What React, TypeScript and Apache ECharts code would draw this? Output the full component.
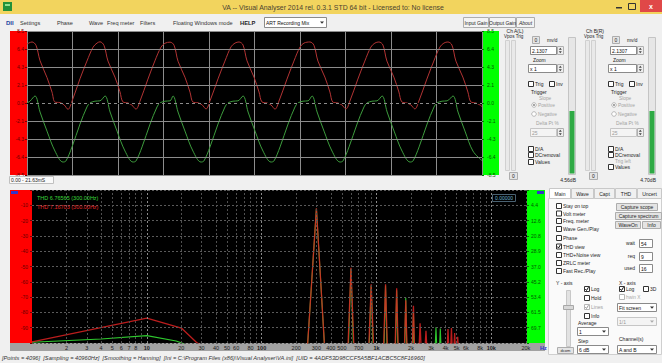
import React, { useEffect, useRef } from "react";
import * as echarts from "echarts";

// ---------- data ----------
const SCOPE_SPAN_MS = 21.63;
const SCOPE_Y_TICKS_A = ["-8.5", "-6.4", "-4.3", "-2.1", "0.0", "2.1", "4.3", "6.4", "8.5"];
const SCOPE_Y_TICKS_B = ["-8.5", "-6.4", "-4.3", "-2.1", "0.0", "2.1", "4.3", "6.4", "8.5"];

// channel A (red) trace: [ms, divisions]
const WAVE_A = [
  [0, 3.28], [0.24, 3.39], [0.43, 3.2], [0.62, 2.35], [0.95, 1.42], [1.19, 0.6], [1.33, 0.05], [1.57, 0.02], [1.76, -0.1], [1.95, -0.35], [2.14, 0.1], [2.52, 1.35], [2.85, 2.33], [3.14, 3.1], [3.33, 3.33],
  [3.47, 3.4], [3.66, 3.2], [3.85, 2.33], [4.18, 1.44], [4.42, 0.62], [4.56, 0.06], [4.8, 0.0], [4.99, -0.12], [5.18, -0.34], [5.37, 0.1], [5.75, 1.33], [6.08, 2.34], [6.37, 3.1], [6.56, 3.32],
  [6.8, 3.38], [6.99, 3.21], [7.18, 2.32], [7.51, 1.43], [7.75, 0.6], [7.89, 0.05], [8.13, 0.01], [8.32, -0.1], [8.51, -0.33], [8.7, 0.12], [9.08, 1.34], [9.41, 2.33], [9.7, 3.12], [9.89, 3.33],
  [10.08, 3.39], [10.27, 3.22], [10.46, 2.34], [10.79, 1.44], [11.03, 0.61], [11.17, 0.06], [11.41, 0.0], [11.6, -0.11], [11.79, -0.34], [11.98, 0.11], [12.36, 1.33], [12.69, 2.33], [12.98, 3.11], [13.17, 3.33],
  [13.45, 3.39], [13.64, 3.21], [13.83, 2.33], [14.16, 1.44], [14.4, 0.61], [14.54, 0.05], [14.78, 0.0], [14.97, -0.11], [15.16, -0.33], [15.35, 0.11], [15.73, 1.33], [16.06, 2.33], [16.35, 3.11], [16.54, 3.33],
  [16.73, 3.39], [16.92, 3.22], [17.11, 2.33], [17.44, 1.44], [17.68, 0.61], [17.82, 0.06], [18.06, 0.0], [18.25, -0.11], [18.44, -0.33], [18.63, 0.11], [19.01, 1.33], [19.34, 2.33], [19.63, 3.11], [19.82, 3.33],
  [20.01, 3.39], [20.2, 3.22], [20.39, 2.33], [20.72, 1.44], [20.96, 0.61], [21.1, 0.06], [21.34, 0.0], [21.53, -0.11], [21.63, -0.2],
];

// channel B (green) trace: [ms, divisions]
const WAVE_B = [
  [0, 0.0], [0.14, 0.1], [0.38, 0.39], [0.62, -0.5], [0.95, -1.56], [1.33, -2.67], [1.71, -3.28], [1.85, -3.22], [2.14, -2.44], [2.52, -1.17], [2.85, -0.22], [2.99, 0.0], [3.23, 0.1], [3.47, 0.12],
  [3.71, 0.39], [3.95, -0.5], [4.28, -1.56], [4.66, -2.67], [5.04, -3.28], [5.18, -3.22], [5.47, -2.44], [5.85, -1.17], [6.18, -0.22], [6.32, 0.0], [6.56, 0.1], [6.8, 0.12],
  [6.94, 0.39], [7.18, -0.5], [7.51, -1.56], [7.89, -2.67], [8.27, -3.28], [8.41, -3.22], [8.7, -2.44], [9.08, -1.17], [9.41, -0.22], [9.55, 0.0], [9.79, 0.1], [10.03, 0.12],
  [10.27, 0.39], [10.51, -0.5], [10.84, -1.56], [11.22, -2.67], [11.6, -3.28], [11.74, -3.22], [12.03, -2.44], [12.41, -1.17], [12.74, -0.22], [12.88, 0.0], [13.12, 0.1], [13.36, 0.12],
  [13.55, 0.39], [13.79, -0.5], [14.12, -1.56], [14.5, -2.67], [14.88, -3.28], [15.02, -3.22], [15.31, -2.44], [15.69, -1.17], [16.02, -0.22], [16.16, 0.0], [16.4, 0.1], [16.64, 0.12],
  [16.88, 0.39], [17.12, -0.5], [17.45, -1.56], [17.83, -2.67], [18.21, -3.28], [18.35, -3.22], [18.64, -2.44], [19.02, -1.17], [19.35, -0.22], [19.49, 0.0], [19.73, 0.1], [19.97, 0.12],
  [20.25, 0.39], [20.49, -0.5], [20.82, -1.56], [21.2, -2.67], [21.63, -3.2],
];

// spectrum: [Hz, dB]
const SPEC_F_MIN = 1;
const SPEC_F_MAX = 20480;
const SPEC_A = [
  [1, -99.3], [10, -83.7], [20, -90.2], [27, -99.5], [30, -102],
  [251, -102], [300, -12.0], [353, -102],
  [565, -102], [600, -50.8], [636, -102],
  [858, -102], [900, -61.6], [944, -102],
  [1155, -102], [1200, -61.6], [1245, -102],
  [1455, -102], [1500, -64.2], [1545, -102],
  [1755, -102], [1800, -72.0], [1845, -102],
  [2055, -102], [2100, -75.6], [2145, -102],
  [2355, -102], [2400, -87.1], [2445, -102],
  [2655, -102], [2700, -92.0], [2745, -102],
  [4140, -102], [4200, -90.8], [4260, -102],
  [4440, -102], [4500, -90.2], [4560, -102],
  [4740, -102], [4800, -93.5], [4860, -102],
  [5040, -102], [5100, -95.9], [5160, -102],
  [20480, -102],
];
const SPEC_B = [
  [1, -99.5], [4, -97.4], [10, -95.2], [18, -98.7], [24, -102],
  [251, -102], [300, -12.3], [353, -102],
  [570, -102], [600, -51.5], [630, -102],
  [865, -102], [900, -62.5], [935, -102],
  [1165, -102], [1200, -62.5], [1235, -102],
  [1465, -102], [1500, -65.5], [1535, -102],
  [1765, -102], [1800, -70.4], [1835, -102],
  [2070, -102], [2100, -80.0], [2130, -102],
  [3250, -102], [3300, -89.7], [3350, -102],
  [3550, -102], [3600, -90.5], [3650, -102],
  [20480, -102],
];
const SPEC_X_TICKS = [2, 3, 4, 5, 6, 7, 8, 9, 10, 20, 30, 40, 50, 60, 70, 80, 90, 100, 200, 300, 400, 500, 600, 700, 800, 900, 1000, 2000, 3000, 4000, 5000, 6000, 7000, 8000, 9000, 10000, 20000];
const SPEC_X_LABELS = ["2", "3", "4", "5", "6", "7", "8", "", "10", "20", "30", "40", "50", "60", "", "80", "", "100", "200", "300", "400", "500", "", "700", "", "", "1k", "2k", "3k", "4k", "5k", "6k", "", "8k", "", "10k", "20k"];
const SPEC_Y_LEFT = ["", "-90", "-80", "-70", "-60", "-50", "-40", "-30", "-20", "-10", ""];
const SPEC_Y_RIGHT = ["", "69.7", "61.5", "53.4", "45.2", "37.0", "28.9", "20.8", "12.6", "4.4", ""];
const THD_TEXT = ["THD 6.76565 (300.00Hz)", "THD 7.16703 (300.00Hz)"];
const LEVEL_DB = ["4.56dB", "4.70dB"];
const TITLE = "VA -- Visual Analyser 2014 rel. 0.3.1 STD 64 bit - Licensed to: No license";
const STATUS = "[Points = 4096]  [Sampling = 40960Hz]  [Smoothing = Hanning]  [Ini = C:\\Program Files (x86)\\Visual Analyser\\VA.ini]  [UID = 4ADF53D98CCF5A5BF1ACBC5C8F16960]";

const F = "'Liberation Sans', 'DejaVu Sans', sans-serif";

// ---------- graphic helpers ----------
function txt(x: number, y: number, s: string, o: any = {}) {
  return {
    type: "text", x, y, z: o.z ?? 20, silent: true,
    style: {
      text: s, fill: o.c ?? "#1e1e1e", fontSize: o.fs ?? 5.5, fontFamily: F,
      fontWeight: o.b ? "bold" : "normal", fontStyle: o.i ? "italic" : "normal",
      align: o.a ?? "left", verticalAlign: "middle",
    },
  };
}
function box(x: number, y: number, w: number, h: number, fill: string, stroke?: string, z = 10) {
  const st: any = { fill };
  if (stroke) { st.stroke = stroke; st.lineWidth = 1; }
  return { type: "rect", z, silent: true, shape: { x: stroke ? x + 0.5 : x, y: stroke ? y + 0.5 : y, width: w, height: h }, style: st };
}
function cb(x: number, y: number, checked = false, dis = false) {
  const out: any[] = [box(x, y - 3, 5, 5, "#fff", dis ? "#b5b5b5" : "#333", 12)];
  if (checked) out.push({ type: "polyline", z: 14, silent: true, shape: { points: [[x + 1.3, y], [x + 2.5, y + 1.5], [x + 4.5, y - 1.8]] }, style: { stroke: dis ? "#9a9a9a" : "#111", lineWidth: 1, fill: null } });
  return out;
}
function radio(x: number, y: number, on: boolean) {
  const out: any[] = [{ type: "circle", z: 12, silent: true, shape: { cx: x, cy: y, r: 2.3 }, style: { fill: "#fff", stroke: "#aaa", lineWidth: 0.8 } }];
  if (on) out.push({ type: "circle", z: 13, silent: true, shape: { cx: x, cy: y, r: 1.1 }, style: { fill: "#999" } });
  return out;
}
function btn(x: number, y: number, w: number, h: number, label: string, o: any = {}) {
  return [box(x, y, w, h, o.bg ?? "#e4e4e4", "#adadad", 12), txt(x + w / 2 + 0.5, y + h / 2 + 0.8, label, { a: "center", fs: o.fs ?? 5, i: o.i, c: o.c })];
}
function input(x: number, y: number, w: number, h: number, val: string, dis = false) {
  return [box(x, y, w, h, dis ? "#f4f4f4" : "#fff", dis ? "#c6c6c6" : "#8a8a8a", 12), txt(x + 2, y + h / 2 + 0.8, val, { fs: 5, c: dis ? "#9a9a9a" : "#111" })];
}
function spin(x: number, y: number, h: number) {
  return [
    box(x, y, 6, h, "#eee", "#b0b0b0", 12),
    { type: "polygon", z: 14, silent: true, shape: { points: [[x + 1.8, y + h / 2 - 0.3], [x + 4.8, y + h / 2 - 0.3], [x + 3.3, y + 1.8]] }, style: { fill: "#444" } },
    { type: "polygon", z: 14, silent: true, shape: { points: [[x + 1.8, y + h / 2 + 1.3], [x + 4.8, y + h / 2 + 1.3], [x + 3.3, y + h - 0.8]] }, style: { fill: "#444" } },
  ];
}
function drop(x: number, y: number, w: number, h: number, val: string, dis = false) {
  return [
    ...input(x, y, w, h, val, dis),
    { type: "polygon", z: 14, silent: true, shape: { points: [[x + w - 6, y + h / 2 - 0.5], [x + w - 2, y + h / 2 - 0.5], [x + w - 4, y + h / 2 + 1.8]] }, style: { fill: dis ? "#aaa" : "#333" } },
  ];
}

function chPanel(x0: number, name: string, db: string, trigLeft: boolean) {
  const g = "#a3a3a3";
  const out: any[] = [
    txt(x0 + 12, 30.5, name, { a: "center", fs: 5 }),
    txt(x0 + 1, 36.5, "Vpos Trig", { fs: 4.6 }),
    box(x0 + 2, 40, 4, 130, "#e9e9e9", "#d0d0d0"),
    box(x0 + 8, 40, 4, 130, "#e9e9e9", "#d0d0d0"),
    ...btn(x0 + 29, 36, 7, 7, "0"),
    txt(x0 + 44, 40, "mv/d", { fs: 4.8 }),
    ...input(x0 + 27, 46, 26, 8, "2.1307"),
    ...spin(x0 + 54, 46, 8),
    txt(x0 + 30, 60, "Zoom", { fs: 5 }),
    ...input(x0 + 25, 64, 28, 8, "x 1"),
    ...spin(x0 + 54, 64, 8),
    ...cb(x0 + 25, 84), txt(x0 + 32, 84, "Trig", { fs: 5 }),
    ...cb(x0 + 46, 84), txt(x0 + 53, 84, "Inv", { fs: 5 }),
    txt(x0 + 28, 92, "Trigger", { fs: 5 }),
    txt(x0 + 36, 98, "Slope", { fs: 4.8, c: g }),
    ...radio(x0 + 31, 105, true), txt(x0 + 35, 105, "Positive", { fs: 4.8, c: g }),
    ...radio(x0 + 31, 114, false), txt(x0 + 35, 114, "Negative", { fs: 4.8, c: g }),
    txt(x0 + 33, 123, "Delta Pt %", { fs: 4.8, c: g }),
    ...input(x0 + 27, 128, 26, 8, "25", true),
    ...spin(x0 + 54, 128, 8),
    ...cb(x0 + 25, 149), txt(x0 + 32, 149, "D/A", { fs: 5 }),
    ...cb(x0 + 25, 155), txt(x0 + 32, 155, "DCremoval", { fs: 5 }),
    ...btn(x0 + 6, 172, 8, 7, "0"),
    box(x0 + 65, 37, 7, 137, "#e6e6e6", "#c4c4c4"),
    box(x0 + 66.5, 111, 5, 62.5, "#2faa45"),
    txt(x0 + 73, 179.5, db, { a: "right", fs: 5 }),
  ];
  if (trigLeft) {
    out.push(txt(x0 + 32, 161, "Trig left", { fs: 4.8, c: g }), ...cb(x0 + 25, 167), txt(x0 + 32, 167, "Values", { fs: 5 }));
  } else {
    out.push(...cb(x0 + 25, 162), txt(x0 + 32, 162, "Values", { fs: 5 }));
  }
  return out;
}

function buildGraphics() {
  const els: any[] = [];
  // title bar
  els.push(box(0, 0, 662, 14, "#f2d45e", undefined, 5));
  els.push(box(3, 2, 9, 9, "#23913a", undefined, 12), box(5, 4, 5, 2, "#8fe08f", undefined, 13));
  els.push(txt(333, 7, TITLE, { a: "center", fs: 6.9, c: "#4a4230" }));
  els.push(box(616, 7, 6, 1.5, "#333", undefined, 12));
  els.push(box(628, 3, 7, 6, "rgba(0,0,0,0)", "#333", 12));
  els.push(box(640, 0, 22, 12, "#e04848", undefined, 12));
  els.push(txt(651, 6, "x", { a: "center", fs: 7, c: "#fff", b: true }));
  // menu bar
  els.push(box(0, 14, 662, 16, "#f0f0f0", undefined, 5));
  els.push(txt(6, 22.5, "DII", { b: true, c: "#1c3f9e", fs: 6 }));
  const menu = [["Settings", 20], ["Phase", 57], ["Wave", 89], ["Freq meter", 107], ["Filters", 140], ["Floating Windows mode", 173]];
  for (const [s, x] of menu) els.push(txt(x as number, 22.5, s as string, { fs: 5.6, c: "#333" }));
  els.push(txt(240, 22.5, "HELP", { b: true, fs: 5.8 }));
  els.push(...drop(264, 17, 62, 10, "ART Recording Mix"));
  els.push(...btn(463, 17, 25, 10, "Input Gain", { bg: "#f4f4f4" }));
  els.push(...btn(489, 17, 26, 10, "Output Gain", { bg: "#f4f4f4" }));
  els.push(...btn(516, 17, 18, 10, "About", { bg: "#f4f4f4", i: true }));

  // scope side bars (under the axis labels)
  els.push(box(10, 31, 17, 144, "#ff0000", undefined, -1));
  els.push(box(482, 31, 17, 144, "#00ff00", undefined, -1));
  els.push(box(9, 176, 44, 7, "#fafafa", "#c0c0c0"));
  els.push(txt(11, 180, "0.00 - 21.63mS", { fs: 5 }));

  els.push(...chPanel(503, "Ch A(L)", LEVEL_DB[0], false));
  els.push(...chPanel(583, "Ch B(R)", LEVEL_DB[1], true));

  // spectrum side bars
  els.push(box(10, 190, 22, 153, "#ff0000", undefined, -1));
  els.push(box(527, 190, 18, 153, "#00ff00", undefined, -1));
  els.push(box(10, 343, 535, 8, "#a2a2a2", undefined, -1));
  els.push(box(11, 191, 7, 3, "#3434c8", undefined, 12));
  els.push(box(537, 191, 7, 3, "#3434c8", undefined, 12));
  els.push(txt(540, 347.5, "Hz", { fs: 5.5, c: "#2a2ad0", b: true }));
  els.push(txt(37, 198, THD_TEXT[0], { fs: 5.5, c: "#3bd83b" }));
  els.push(txt(37, 206.5, THD_TEXT[1], { fs: 5.5, c: "#e02828" }));
  els.push(box(492, 194, 23, 7, "#000", "#4a6272", 12));
  els.push(txt(504, 198, "0.00000", { a: "center", fs: 5, c: "#6ab4d4" }));

  // bottom right panel
  els.push(box(548, 198, 113, 156, "#fafafa", "#cfcfcf", 6));
  const tabs = [["Main", 549, 21], ["Wave", 571, 22], ["Capt", 594, 20], ["THD", 615, 21], ["Uncert", 637, 24]];
  tabs.forEach(([s, x, w], i) => {
    els.push(box(x as number, 188, w as number, 10, i === 0 ? "#fff" : "#f0f0f0", "#c8c8c8", 8));
    els.push(txt((x as number) + (w as number) / 2 + 0.5, 193.5, s as string, { a: "center", fs: 5 }));
  });
  const checks = ["Stay on top", "Volt meter", "Freq. meter", "Wave Gen./Play", "Phase", "THD view", "THD+Noise view", "ZRLC meter", "Fast Rec./Play"];
  const cys = [206, 213.5, 221, 229, 238, 246.5, 255, 263, 271];
  checks.forEach((s, i) => { els.push(...cb(556, cys[i], s === "THD view"), txt(563, cys[i], s, { fs: 5 })); });
  els.push(...btn(616, 203, 41, 7, "Capture scope"));
  els.push(...btn(615, 212, 46, 7, "Capture spectrum"));
  els.push(...btn(615, 221, 25, 7, "WaveOn"));
  els.push(...btn(642, 221, 18, 7, "Info"));
  const fields = [["wait", "54", 243], ["req", "9", 256], ["used", "16", 268]];
  for (const [l, v, y] of fields) {
    els.push(txt(635, y as number, l as string, { a: "right", fs: 5 }));
    els.push(...input(639, (y as number) - 4, 13, 8, v as string));
  }
  els.push(txt(556, 283, "Y - axis", { fs: 5 }));
  els.push(txt(619, 283, "X - axis", { fs: 5 }));
  els.push(box(566, 290, 4, 56, "#e2e2e2", "#c8c8c8"));
  els.push(box(563, 305, 10, 4, "#d8d8d8", "#a8a8a8", 13));
  els.push(...cb(584, 289, true), txt(591, 289, "Log", { fs: 5 }));
  els.push(...cb(584, 298), txt(591, 298, "Hold", { fs: 5 }));
  els.push(...cb(584, 307, true, true), txt(591, 307, "Lines", { fs: 5, c: "#a0a0a0" }));
  els.push(...cb(584, 316), txt(591, 316, "Info", { fs: 5 }));
  els.push(txt(578, 323, "Average", { fs: 5 }));
  els.push(...drop(577, 327, 31, 8, "1"));
  els.push(txt(578, 341, "Step", { fs: 5 }));
  els.push(...drop(577, 345, 31, 8, "6 dB"));
  els.push(...btn(557, 347, 16, 6, "dcom", { fs: 4 }));
  els.push(...cb(619, 289, true), txt(626, 289, "Log", { fs: 5 }));
  els.push(...cb(643, 289), txt(650, 289, "3D", { fs: 5 }));
  els.push(...cb(619, 297, false, true), txt(626, 297, "hwin X", { fs: 4.8, c: "#a8a8a8" }));
  els.push(...drop(617, 303, 39, 8, "Fit screen"));
  els.push(...drop(617, 317, 39, 8, "1/1", true));
  els.push(txt(619, 339, "Channel(s)", { fs: 5 }));
  els.push(...drop(617, 345, 39, 8, "A and B"));

  // status bar
  els.push(txt(2, 357.5, STATUS, { i: true, fs: 5.7, c: "#333" }));
  return els;
}

export default function App() {
  const ref = useRef<HTMLDivElement>(null);
  useEffect(() => {
    if (!ref.current) return;
    const chart = echarts.init(ref.current, null, { renderer: "svg", width: 662, height: 363 });
    const tickLines = SPEC_X_TICKS.map((f, i) => {
      const decade = Math.abs(Math.log10(f) - Math.round(Math.log10(f))) < 1e-9;
      const lab = SPEC_X_LABELS[i];
      return {
        xAxis: f,
        lineStyle: { color: decade ? "#8a8a8a" : "#505050", type: [2, 2], width: 1 },
        label: lab
          ? { show: true, formatter: lab, position: "start", distance: 1.5, fontSize: 5.5, fontFamily: F, color: "#1a1a1a", fontWeight: decade ? "bold" : "normal" }
          : { show: false },
      };
    });
    const option: any = {
      animation: false,
      backgroundColor: "#f0f0f0",
      graphic: { elements: buildGraphics() },
      grid: [
        { left: 27, top: 31, width: 455, height: 144, show: true, backgroundColor: "#000", borderWidth: 0 },
        { left: 32, top: 190, width: 495, height: 153, show: true, backgroundColor: "#000", borderWidth: 0 },
      ],
      xAxis: [
        {
          gridIndex: 0, type: "value", min: 0, max: SCOPE_SPAN_MS, interval: SCOPE_SPAN_MS / 10,
          axisLabel: { show: false }, axisLine: { show: false }, axisTick: { show: false },
          splitLine: { show: true, lineStyle: { color: "#8c8c8c", width: 1 } },
        },
        {
          gridIndex: 1, type: "log", logBase: 10, min: SPEC_F_MIN, max: SPEC_F_MAX,
          axisLabel: { show: false }, axisLine: { show: false }, axisTick: { show: false }, splitLine: { show: false },
        },
      ],
      yAxis: [
        {
          gridIndex: 0, type: "value", min: -4, max: 4, interval: 1, position: "left", z: 5,
          axisLine: { show: false }, axisTick: { show: true, length: 2, lineStyle: { color: "#700" } },
          axisLabel: { fontSize: 5, fontFamily: F, color: "#6a0000", margin: 3, formatter: (v: number) => SCOPE_Y_TICKS_A[Math.round(v) + 4] ?? "" },
          splitLine: { show: true, lineStyle: { color: "#8c8c8c", width: 1 } },
        },
        {
          gridIndex: 0, type: "value", min: -4, max: 4, interval: 1, position: "right", z: 5,
          axisLine: { show: false }, axisTick: { show: true, length: 2, lineStyle: { color: "#070" } },
          axisLabel: { fontSize: 5, fontFamily: F, color: "#005a00", margin: 5, formatter: (v: number) => SCOPE_Y_TICKS_B[Math.round(v) + 4] ?? "" },
          splitLine: { show: false },
        },
        {
          gridIndex: 1, type: "value", min: -100, max: 0, interval: 10, position: "left", z: 5,
          axisLine: { show: false }, axisTick: { show: true, length: 2, lineStyle: { color: "#700" } },
          axisLabel: { fontSize: 5, fontFamily: F, color: "#6a0000", margin: 4, formatter: (v: number) => SPEC_Y_LEFT[Math.round((v + 100) / 10)] ?? "" },
          splitLine: { show: true, lineStyle: { color: "#5a5a5a", width: 1, type: [2, 2] } },
        },
        {
          gridIndex: 1, type: "value", min: -100, max: 0, interval: 10, position: "right", z: 5,
          axisLine: { show: false }, axisTick: { show: true, length: 2, lineStyle: { color: "#070" } },
          axisLabel: { fontSize: 5, fontFamily: F, color: "#005a00", margin: 4, formatter: (v: number) => SPEC_Y_RIGHT[Math.round((v + 100) / 10)] ?? "" },
          splitLine: { show: false },
        },
      ],
      series: [
        {
          type: "line", xAxisIndex: 0, yAxisIndex: 0, data: [[0, -10]], symbol: "none", silent: true, z: 2,
          lineStyle: { opacity: 0 },
          markLine: { silent: true, symbol: ["none", "none"], label: { show: false }, data: [{ yAxis: 0, lineStyle: { color: "#000", type: [3, 3], width: 1 } }] },
        },
        {
          type: "line", xAxisIndex: 0, yAxisIndex: 0, data: WAVE_A, symbol: "none", smooth: 0.35, z: 3,
          lineStyle: { color: "#b23434", width: 1 },
        },
        {
          type: "line", xAxisIndex: 0, yAxisIndex: 0, data: WAVE_B, symbol: "none", smooth: 0.35, z: 3,
          lineStyle: { color: "#3d9c3d", width: 1 },
        },
        {
          type: "line", xAxisIndex: 1, yAxisIndex: 2, data: [[1, -150]], symbol: "none", silent: true, z: 2,
          lineStyle: { opacity: 0 },
          markLine: { silent: true, symbol: ["none", "none"], data: tickLines },
        },
        {
          type: "line", xAxisIndex: 1, yAxisIndex: 2, data: SPEC_B, symbol: "none", z: 3,
          lineStyle: { color: "#2ec82e", width: 1.1 },
        },
        {
          type: "line", xAxisIndex: 1, yAxisIndex: 2, data: SPEC_A, symbol: "none", z: 4,
          lineStyle: { color: "#dc2222", width: 1.3, opacity: 0.85 },
        },
      ],
    };
    chart.setOption(option);
    return () => chart.dispose();
  }, []);
  return <div ref={ref} style={{ position: "fixed", left: 0, top: 0, width: 662, height: 363, background: "#f0f0f0" }} />;
}
